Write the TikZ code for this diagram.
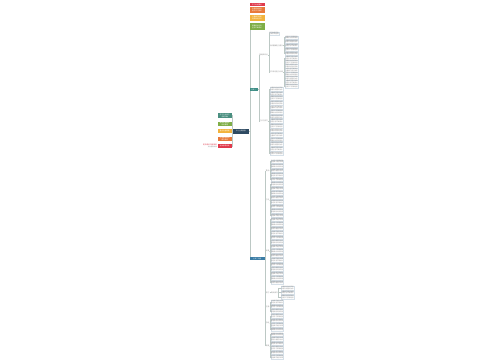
\documentclass[tikz,border=0pt]{standalone}
\usepackage{fontspec}
\newfontfamily\cjk{Noto Sans CJK SC}
\definecolor{navy}{HTML}{2E4A62}
\definecolor{cteal}{HTML}{4A8F80}
\definecolor{cgreen}{HTML}{7FAE47}
\definecolor{cyellow}{HTML}{F2B33D}
\definecolor{corange}{HTML}{E8793A}
\definecolor{cred}{HTML}{E03A4C}
\definecolor{bteal}{HTML}{3E8E86}
\definecolor{bblue}{HTML}{3A7CA5}
\definecolor{linec}{HTML}{BCC8C4}
\definecolor{leafc}{HTML}{8E8E8E}
\definecolor{leafb}{HTML}{D6E0E8}
\definecolor{labc}{HTML}{909090}
\newcommand\phr[1]{\ifcase#1 坚持学习积累经验\or 合理规划时间安排\or 注重细节提升效率\or 明确目标持续改进\or 加强沟通团队协作\or 总结反思不断成长\fi}
\begin{document}
\begin{tikzpicture}[x=1pt,y=-1pt,
  conn/.style={draw=linec, line width=0.3pt},
  cbox/.style={rectangle, inner sep=0pt, minimum width=14.5pt, minimum height=4.6pt, text=white, align=center, font=\cjk\fontsize{1.6}{1.8}\selectfont},
  leaf/.style={anchor=west, inner sep=0.25pt, draw=leafb, line width=0.2pt, text=leafc, align=left, font=\cjk\fontsize{1.55}{1.7}\selectfont},
  lab/.style={anchor=west, inner sep=0.2pt, text=labc, font=\cjk\fontsize{1.7}{1.9}\selectfont}]
\useasboundingbox (0,0) rectangle (500,360);
\fill[white] (0,0) rectangle (500,360);
% trunk
\coordinate (tk) at (250,29.75);
\coordinate (tb) at (250,258.5);
\draw[conn] (tk) -- (tb);
% center
\node[cbox, fill=navy, minimum width=16pt, minimum height=5pt] (C) at (241,131) {中心主题内容};
\draw[conn] (C.east) -- (C.east -| tk);
% left boxes
\node[cbox, fill=cteal, minimum height=5pt] (L1) at (224.75,115.5) {学习方法技巧\\总结归纳};
\node[cbox, fill=cgreen, minimum height=4.5pt] (L2) at (224.75,124) {规划安排要点\\时间管理};
\node[cbox, fill=cyellow, minimum height=4pt] (L3) at (224.75,131) {重点内容梳理};
\node[cbox, fill=corange, minimum height=4.5pt] (L4) at (224.75,139) {注意事项说明\\提升效率};
\node[cbox, fill=cred, minimum height=4pt] (L5) at (224.75,146) {相关推荐阅读};
\foreach \n in {L1,L2,L3,L4,L5}{\draw[conn] (C.west) -- ++(-0.4,0) |- (\n.east);}
\node[anchor=east, inner sep=0.2pt, text=cred, align=right, font=\cjk\fontsize{1.7}{2}\selectfont] (R1) at (217.2,145) {更多精彩内容推荐};
\node[anchor=east, inner sep=0.2pt, text=labc, font=\cjk\fontsize{1.5}{1.7}\selectfont] (R2) at (217.2,147.4) {点击查看详情};
% top boxes
\node[cbox, fill=cred, minimum width=15pt, minimum height=3.6pt] (T1) at (257,4.5) {学习总结要点};
\node[cbox, fill=corange, minimum width=15pt, minimum height=5.5pt] (T2) at (257,10) {合理规划时间\\提升学习效率};
\node[cbox, fill=cyellow, minimum width=15pt, minimum height=6pt] (T3) at (257,18) {注重细节积累\\持续改进方法};
\node[cbox, fill=cgreen, minimum width=15pt, minimum height=6.5pt] (T4) at (257,26.5) {明确目标方向\\坚持不断成长};
% branch A
\node[cbox, fill=bteal, minimum width=8pt, minimum height=3pt, anchor=west] (A) at (249.5,89.5) {分支一};
\node[lab] (A1) at (259,55) {基础知识点};
\node[lab] (A2) at (259,121) {方法与技巧};
\foreach \n in {A1,A2}{\draw[conn] (A.east) -- ++(0.8,0) |- (\n.west);}
\node[leaf] (A1a) at (269,33.5) {学习准备工作\\前期资料整理};
\node[lab] (A1b) at (269,45.5) {阅读理解能力提升};
\node[lab] (A1c) at (269,72) {写作表达能力训练};
\foreach \n in {A1a,A1b,A1c}{\draw[conn] (A1.east) -- ++(0.6,0) |- (\n.west);}
\foreach \k in {0,...,4}{
  \pgfmathtruncatemacro\m{mod(\k,6)}\pgfmathtruncatemacro\q{mod(\k+3,6)}
  \node[leaf] (b\k) at (285,37.5+\k*4) {\phr{\m}\\\phr{\q}};
  \draw[conn] (A1b.east) -- ++(0.6,0) |- (b\k.west);}
\foreach \k in {0,...,7}{
  \pgfmathtruncatemacro\m{mod(\k+2,6)}\pgfmathtruncatemacro\q{mod(\k+5,6)}
  \node[leaf] (c\k) at (285,58+\k*4) {\phr{\m}\\\phr{\q}};
  \draw[conn] (A1c.east) -- ++(0.6,0) |- (c\k.west);}
\foreach \k in {0,...,14}{
  \pgfmathtruncatemacro\m{mod(\k+1,6)}\pgfmathtruncatemacro\q{mod(\k+4,6)}
  \node[leaf] (d\k) at (270,89+\k*4.6) {\phr{\m}\\\phr{\q}};
  \draw[conn] (A2.east) -- ++(0.6,0) |- (d\k.west);}
% branch B
\node[cbox, fill=bblue, minimum width=15pt, minimum height=3.5pt, anchor=west] (B) at (249.5,258.5) {分支二内容};
\node[lab] (B1) at (265.5,170.5) {要点};
\node[lab] (B2) at (265.5,199.75) {方法};
\node[lab] (B3) at (265.5,251) {步骤};
\node[lab] (B4) at (265.5,292.5) {技巧};
\node[lab] (B5) at (265.5,306.5) {注意};
\node[lab] (B6) at (265.5,322.75) {总结};
\node[lab] (B7) at (265.5,345.75) {拓展};
\foreach \n in {B1,B2,B3,B4,B5,B6,B7}{\draw[conn] (B.east) -- ++(0.6,0) |- (\n.west);}
\foreach \k in {0,...,4}{
  \pgfmathtruncatemacro\m{mod(\k,6)}\pgfmathtruncatemacro\q{mod(\k+2,6)}
  \node[leaf] (e\k) at (270.5,161.5+\k*4.5) {\phr{\m}\\\phr{\q}};
  \draw[conn] (B1.east) -- ++(0.4,0) |- (e\k.west);}
\foreach \k in {0,...,7}{
  \pgfmathtruncatemacro\m{mod(\k+3,6)}\pgfmathtruncatemacro\q{mod(\k+1,6)}
  \node[leaf] (f\k) at (270.5,184+\k*4.5) {\phr{\m}\\\phr{\q}};
  \draw[conn] (B2.east) -- ++(0.4,0) |- (f\k.west);}
\foreach \k in {0,...,14}{
  \pgfmathtruncatemacro\m{mod(\k+5,6)}\pgfmathtruncatemacro\q{mod(\k+2,6)}
  \node[leaf] (g\k) at (270.5,219.5+\k*4.5) {\phr{\m}\\\phr{\q}};
  \draw[conn] (B3.east) -- ++(0.4,0) |- (g\k.west);}
\node[lab] (S1) at (270.5,292.5) {具体操作};
\draw[conn] (B4.east) -- (S1.west);
\foreach \k in {0,...,2}{
  \pgfmathtruncatemacro\m{mod(\k+1,6)}\pgfmathtruncatemacro\q{mod(\k+4,6)}
  \node[leaf] (h\k) at (281,288+\k*4.5) {\phr{\m}\\\phr{\q}};
  \draw[conn] (S1.east) -- ++(0.4,0) |- (h\k.west);}
\foreach \k in {0,...,2}{
  \pgfmathtruncatemacro\m{mod(\k+2,6)}\pgfmathtruncatemacro\q{mod(\k+5,6)}
  \node[leaf] (i\k) at (270.5,302+\k*4.5) {\phr{\m}\\\phr{\q}};
  \draw[conn] (B5.east) -- ++(0.4,0) |- (i\k.west);}
\foreach \k in {0,...,3}{
  \pgfmathtruncatemacro\m{mod(\k+4,6)}\pgfmathtruncatemacro\q{mod(\k,6)}
  \node[leaf] (j\k) at (270.5,316+\k*4.5) {\phr{\m}\\\phr{\q}};
  \draw[conn] (B6.east) -- ++(0.4,0) |- (j\k.west);}
\foreach \k in {0,...,5}{
  \pgfmathtruncatemacro\m{mod(\k+1,6)}\pgfmathtruncatemacro\q{mod(\k+3,6)}
  \node[leaf] (k\k) at (270.5,334.5+\k*4.5) {\phr{\m}\\\phr{\q}};
  \draw[conn] (B7.east) -- ++(0.4,0) |- (k\k.west);}
\end{tikzpicture}
\end{document}
